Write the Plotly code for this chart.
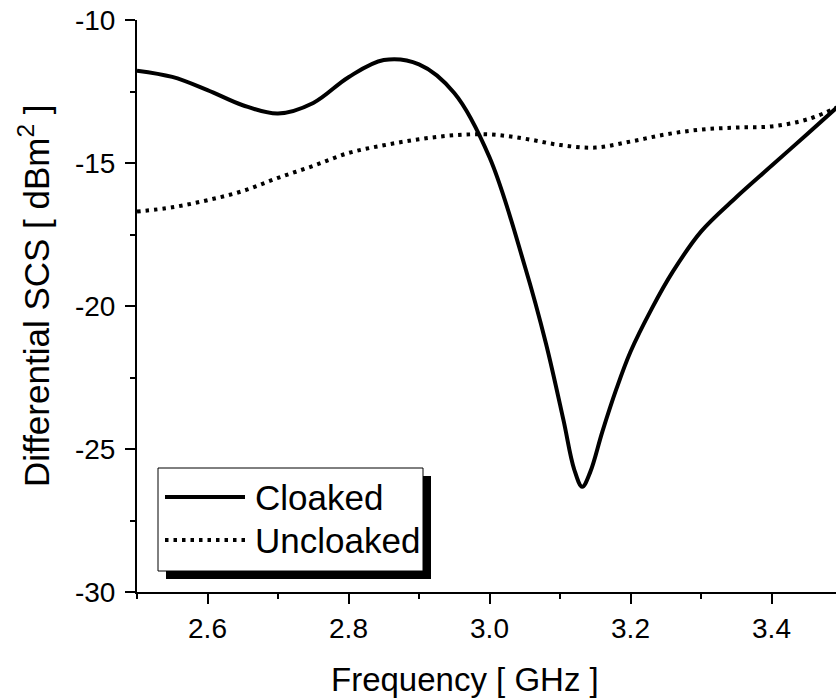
import plotly.graph_objects as go

# Frequency samples (GHz) and differential scattering cross-section (dBm^2)
freq_cloaked = [2.50, 2.55, 2.60, 2.65, 2.70, 2.75, 2.80, 2.85, 2.90, 2.95,
                3.00, 3.05, 3.08, 3.105, 3.12, 3.1315, 3.143, 3.16, 3.18, 3.20,
                3.23, 3.26, 3.30, 3.35, 3.40, 3.45, 3.50]
scs_cloaked = [-11.77, -11.99, -12.45, -12.98, -13.27, -12.90, -12.00, -11.40, -11.55, -12.55,
               -14.80, -18.60, -21.30, -24.00, -25.70, -26.32, -25.80, -24.40, -22.90, -21.60,
               -20.10, -18.80, -17.40, -16.20, -15.10, -14.00, -12.90]

freq_uncloaked = [2.50, 2.55, 2.60, 2.65, 2.70, 2.75, 2.80, 2.85, 2.90, 2.95, 3.00,
                  3.05, 3.10, 3.15, 3.20, 3.25, 3.30, 3.35, 3.40, 3.45, 3.50]
scs_uncloaked = [-16.70, -16.55, -16.30, -15.98, -15.52, -15.10, -14.65, -14.38, -14.17, -14.03, -14.00,
                 -14.15, -14.37, -14.46, -14.25, -14.00, -13.83, -13.76, -13.72, -13.48, -12.98]

series_names = ["Cloaked", "Uncloaked"]
x_title = "Frequency [ GHz ]"
y_title = "Differential SCS [ dBm<sup>2</sup> ]"

x_tick_vals = [2.6, 2.8, 3.0, 3.2, 3.4]
x_tick_text = ["2.6", "2.8", "3.0", "3.2", "3.4"]
y_tick_vals = [-30, -25, -20, -15, -10]
y_tick_text = ["-30", "-25", "-20", "-15", "-10"]

FONT = "Liberation Sans, Arial, sans-serif"
DOT = "3.5px,5px"

W, H = 836, 700
ML, MR, MT, MB = 137, 0, 20, 108
PW, PH = W - ML - MR, H - MT - MB


def px(x):
    return (x - ML) / PW


def py(y):
    return (H - MB - y) / PH


fig = go.Figure()
fig.add_trace(go.Scatter(
    x=freq_cloaked, y=scs_cloaked, mode="lines", name=series_names[0],
    line=dict(color="black", width=4, shape="spline", smoothing=1.0),
    showlegend=False,
))
fig.add_trace(go.Scatter(
    x=freq_uncloaked, y=scs_uncloaked, mode="lines", name=series_names[1],
    line=dict(color="black", width=4, shape="spline", smoothing=1.0, dash=DOT),
    showlegend=False,
))

# Legend box with drop shadow
shapes = [
    dict(type="rect", xref="paper", yref="paper",
         x0=px(166), x1=px(431), y0=py(579), y1=py(476),
         fillcolor="black", line=dict(width=0), layer="above"),
    dict(type="rect", xref="paper", yref="paper",
         x0=px(158), x1=px(423), y0=py(571), y1=py(468),
         fillcolor="white", line=dict(color="black", width=1), layer="above"),
    dict(type="line", xref="paper", yref="paper",
         x0=px(165), x1=px(245), y0=py(497), y1=py(497),
         line=dict(color="black", width=4), layer="above"),
    dict(type="line", xref="paper", yref="paper",
         x0=px(165), x1=px(245), y0=py(540), y1=py(540),
         line=dict(color="black", width=4, dash=DOT), layer="above"),
]
annotations = [
    dict(xref="paper", yref="paper", x=px(253), y=py(497), text=series_names[0],
         showarrow=False, xanchor="left", yanchor="middle",
         font=dict(family=FONT, size=35, color="black")),
    dict(xref="paper", yref="paper", x=px(253), y=py(540), text=series_names[1],
         showarrow=False, xanchor="left", yanchor="middle",
         font=dict(family=FONT, size=35, color="black")),
    # axis titles
    dict(xref="paper", yref="paper", x=px(465), y=py(680), text=x_title,
         showarrow=False, xanchor="center", yanchor="middle",
         font=dict(family=FONT, size=33, color="black")),
    dict(xref="paper", yref="paper", x=px(34), y=py(296), text=y_title,
         showarrow=False, xanchor="center", yanchor="middle", textangle=-90,
         font=dict(family=FONT, size=35, color="black")),
]

fig.update_layout(
    width=W, height=H,
    margin=dict(l=ML, r=MR, t=MT, b=MB, autoexpand=False),
    paper_bgcolor="white", plot_bgcolor="white",
    font=dict(family=FONT, color="black"),
    shapes=shapes, annotations=annotations,
    showlegend=False,
)
fig.update_xaxes(
    range=[2.5, 2.5 + PW / 705.0],
    tickvals=x_tick_vals, ticktext=x_tick_text,
    ticks="outside", ticklen=10, tickwidth=2, tickcolor="black",
    minor=dict(dtick=0.1, tick0=2.5, ticks="outside", ticklen=5, tickwidth=2, tickcolor="black"),
    showline=True, linewidth=2, linecolor="black", mirror=False,
    showgrid=False, zeroline=False,
    tickfont=dict(family=FONT, size=28),
)
fig.update_yaxes(
    range=[-30, -10],
    tickvals=y_tick_vals, ticktext=y_tick_text,
    ticks="outside", ticklen=10, tickwidth=2, tickcolor="black",
    minor=dict(dtick=2.5, tick0=-30, ticks="outside", ticklen=5, tickwidth=2, tickcolor="black"),
    showline=True, linewidth=2, linecolor="black", mirror=False,
    showgrid=False, zeroline=False,
    ticklabelstandoff=4,
    tickfont=dict(family=FONT, size=28),
)

fig.write_html("out.html")
